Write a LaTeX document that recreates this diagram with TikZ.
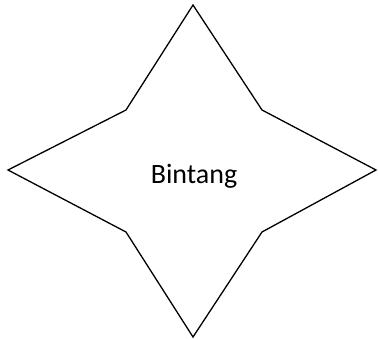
\documentclass[tikz,border=0pt]{standalone}
\usepackage{fontspec}
\setmainfont{Carlito}
\usepackage{tikz}
\usetikzlibrary{calc}
\tikzset{
  starline/.style={draw=black, line width=1.3pt, line join=miter},
  starlabel/.style={font=\fontsize{28}{34}\selectfont, text=black}
}

\begin{document}
\begin{tikzpicture}[x=1pt, y=-1pt]
    \useasboundingbox (0,0) rectangle (378,340);
    % Outer tips and inner corners
    \coordinate (tipN) at (193,5);
    \coordinate (tipE) at (376,170);
    \coordinate (tipS) at (193,337);
    \coordinate (tipW) at (8,170);
    \coordinate (inNE) at (262,110);
    \coordinate (inSE) at (262,232);
    \coordinate (inSW) at (126,232);
    \coordinate (inNW) at (126,110);
    % Star
    \draw[starline] (tipN) -- (inNE) -- (tipE) -- (inSE) -- (tipS)
      -- (inSW) -- (tipW) -- (inNW) -- cycle;
    % Label
    \node[starlabel] (bintang) at (194,176) {Bintang};
\end{tikzpicture}
\end{document}
